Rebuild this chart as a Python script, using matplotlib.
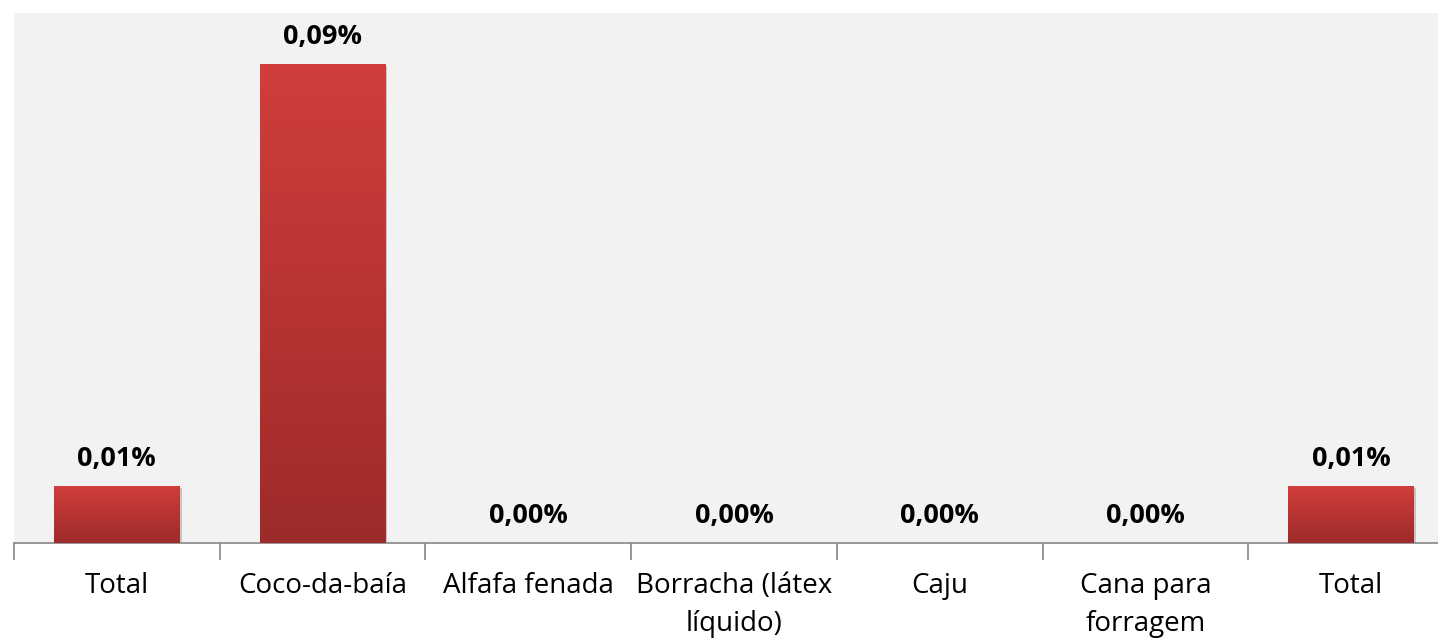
import numpy as np
import matplotlib.pyplot as plt
from matplotlib import patheffects as pe
from matplotlib.colors import LinearSegmentedColormap

plt.rcParams['font.family'] = ['Open Sans', 'DejaVu Sans']

# dados
categorias = ["Total", "Coco-da-baía", "Alfafa fenada", "Borracha (látex\nlíquido)",
              "Caju", "Cana para\nforragem", "Total"]
valores = [0.0108, 0.0904, 0.0, 0.0, 0.0, 0.0, 0.0108]
rotulos = ["0,01%", "0,09%", "0,00%", "0,00%", "0,00%", "0,00%", "0,01%"]

fig = plt.figure(figsize=(14.38, 6.38), dpi=100)
W, H = 1438, 638
ax = fig.add_axes([14 / W, (H - 543) / H, 1440 / W, 530 / H])
ax.set_facecolor("#f2f2f2")

x = np.arange(len(categorias))
barras = ax.bar(x, valores, width=0.61, color="#b83432", zorder=2,
                path_effects=[pe.SimplePatchShadow(offset=(1.5, -1.5), alpha=0.2), pe.Normal()])

# gradiente vertical em cada barra
cmap = LinearSegmentedColormap.from_list("verm", ["#9d2b2a", "#d13e3b"])
grad = np.linspace(0, 1, 256).reshape(-1, 1)
for b in barras:
    if b.get_height() <= 0:
        continue
    x0, y0 = b.get_x(), b.get_y()
    im = ax.imshow(grad, cmap=cmap, origin="lower", aspect="auto", zorder=3,
                   extent=[x0, x0 + b.get_width(), y0, y0 + b.get_height()])
    im.set_clip_path(b)

for xi, v, r in zip(x, valores, rotulos):
    ax.annotate(r, (xi, v), xytext=(0, 10), textcoords="offset points",
                ha="center", va="bottom", fontsize=19.5, fontweight="bold", color="black")

ax.set_xlim(-0.5, len(categorias) - 0.5)
ax.set_ylim(0, 0.1)

ax.set_xticks(x)
ax.set_xticklabels(categorias, fontsize=20, linespacing=1.45)
ax.tick_params(axis="x", which="major", length=0, pad=21)
ax.set_xticks(np.arange(-0.5, len(categorias) - 0.5, 1), minor=True)
ax.tick_params(axis="x", which="minor", length=12, color="#868686", width=1.2)
ax.set_yticks([])

for s in ["top", "right", "left"]:
    ax.spines[s].set_visible(False)
ax.spines["bottom"].set_color("#868686")
ax.spines["bottom"].set_linewidth(1.2)

fig.savefig("out.png", dpi=100)
